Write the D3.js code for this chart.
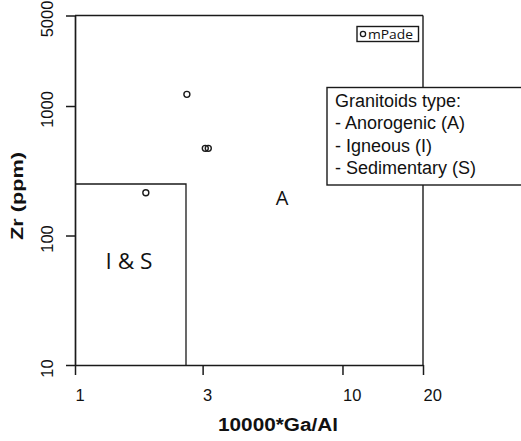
<!DOCTYPE html>
<html><head><meta charset="utf-8">
<script src="https://cdn.jsdelivr.net/npm/d3@7"></script>
<style>body{margin:0;background:#fff}</style>
</head><body>
<svg id="c" width="521" height="441"></svg>
<script>
const xTicks = [1, 3, 10, 20];
const yTicks = [10, 100, 1000, 5000];
const xDomain = [1, 20];
const yDomain = [10, 5000];
const sampleGaAl = [2.62, 3.07, 3.15, 1.84];
const sampleZr = [1230, 471, 471, 214];
const seriesName = "mPade";
const boundaryGaAl = 2.6;
const boundaryZr = 250;
const fieldLabels = ["A", "I & S"];
const legendLines = ["Granitoids type:", "- Anorogenic (A)", "- Igneous (I)", "- Sedimentary (S)"];
const xTitle = "10000*Ga/Al";
const yTitle = "Zr (ppm)";

const svg = d3.select("#c");
const ink = "#1a1a1a";
const x = d3.scaleLog().domain(xDomain).range([75, 423]);
const y = d3.scaleLog().domain(yDomain).range([365, 15.5]);

// frame top/right
svg.append("line").attr("x1", x(1)).attr("x2", x(20)).attr("y1", y(5000)).attr("y2", y(5000)).attr("stroke", ink).attr("stroke-width", 1.6);
svg.append("line").attr("x1", x(20)).attr("x2", x(20)).attr("y1", y(5000)).attr("y2", y(10)).attr("stroke", ink).attr("stroke-width", 1.4);

// I & S field box
svg.append("path")
  .attr("d", `M${x(1)},${y(boundaryZr)}H${x(boundaryGaAl)}V${y(10)}`)
  .attr("fill", "none").attr("stroke", ink).attr("stroke-width", 1.3);

// axes
const xa = svg.append("g").attr("transform", `translate(0,${y(10)})`)
  .call(d3.axisBottom(x).tickValues(xTicks).tickFormat(d3.format("d")).tickSize(10).tickSizeOuter(0));
xa.select(".domain").attr("stroke", ink).attr("stroke-width", 1.7);
xa.selectAll(".tick line").attr("stroke", ink).attr("stroke-width", 1.5);
xa.selectAll(".tick text").attr("fill", "#111").attr("font-family", "Liberation Sans, Arial, sans-serif")
  .attr("font-size", 16.5).attr("text-anchor", "start").attr("x", 0).attr("dy", null).attr("y", 35.5);

const ya = svg.append("g").attr("transform", `translate(${x(1)},0)`)
  .call(d3.axisLeft(y).tickValues(yTicks).tickFormat(d3.format("d")).tickSize(9).tickSizeOuter(0));
ya.select(".domain").attr("stroke", ink).attr("stroke-width", 1.7);
ya.selectAll(".tick line").attr("stroke", ink).attr("stroke-width", 1.5);
ya.selectAll(".tick text").attr("fill", "#111").attr("font-family", "Liberation Sans, Arial, sans-serif")
  .attr("font-size", 16.5).attr("text-anchor", "middle").attr("x", null).attr("dy", null).attr("y", null)
  .attr("transform", "translate(-22,3) rotate(-90)");

// axis titles
svg.append("text").text(xTitle).attr("x", 278).attr("y", 431).attr("text-anchor", "middle")
  .attr("font-family", "Liberation Sans, Arial, sans-serif").attr("font-weight", "bold").attr("font-size", 17.5)
  .attr("textLength", 120).attr("lengthAdjust", "spacingAndGlyphs").attr("fill", "#111");
svg.append("text").text(yTitle).attr("transform", "translate(23,196) rotate(-90)").attr("text-anchor", "middle")
  .attr("font-family", "Liberation Sans, Arial, sans-serif").attr("font-weight", "bold").attr("font-size", 17)
  .attr("textLength", 88).attr("lengthAdjust", "spacingAndGlyphs").attr("fill", "#111");

// field labels
svg.append("text").text(fieldLabels[0]).attr("x", 282).attr("y", 205).attr("text-anchor", "middle")
  .attr("font-family", "Open Sans, sans-serif").attr("font-size", 20).attr("fill", "#111");
svg.append("text").text(fieldLabels[1]).attr("x", 129).attr("y", 269).attr("text-anchor", "middle")
  .attr("font-family", "Open Sans, sans-serif").attr("font-size", 22).attr("fill", "#111")
  .attr("textLength", 47).attr("lengthAdjust", "spacingAndGlyphs");

// points
svg.append("g").selectAll("circle").data(sampleGaAl.map((g, i) => [g, sampleZr[i]])).join("circle")
  .attr("cx", d => x(d[0])).attr("cy", d => y(d[1])).attr("r", 3)
  .attr("fill", "none").attr("stroke", ink).attr("stroke-width", 1.4);

// series legend
svg.append("rect").attr("x", 357).attr("y", 26.5).attr("width", 61.5).attr("height", 15)
  .attr("fill", "#fff").attr("stroke", ink).attr("stroke-width", 1.4);
svg.append("circle").attr("cx", 363).attr("cy", 34).attr("r", 2.6).attr("fill", "none").attr("stroke", ink).attr("stroke-width", 1.3);
svg.append("text").text(seriesName).attr("x", 368).attr("y", 38.5)
  .attr("font-family", "Open Sans, sans-serif").attr("font-size", 13).attr("fill", "#111")
  .attr("textLength", 45).attr("lengthAdjust", "spacingAndGlyphs");

// granitoid type box
svg.append("rect").attr("x", 327).attr("y", 87.5).attr("width", 200).attr("height", 97.5)
  .attr("fill", "#fff").attr("stroke", ink).attr("stroke-width", 1.4);
svg.append("g").selectAll("text").data(legendLines).join("text").text(d => d)
  .attr("x", 335).attr("y", (d, i) => 106.5 + i * 22.5)
  .attr("font-family", "Liberation Sans, Arial, sans-serif").attr("font-size", 18).attr("fill", "#111");
</script>
</body></html>
